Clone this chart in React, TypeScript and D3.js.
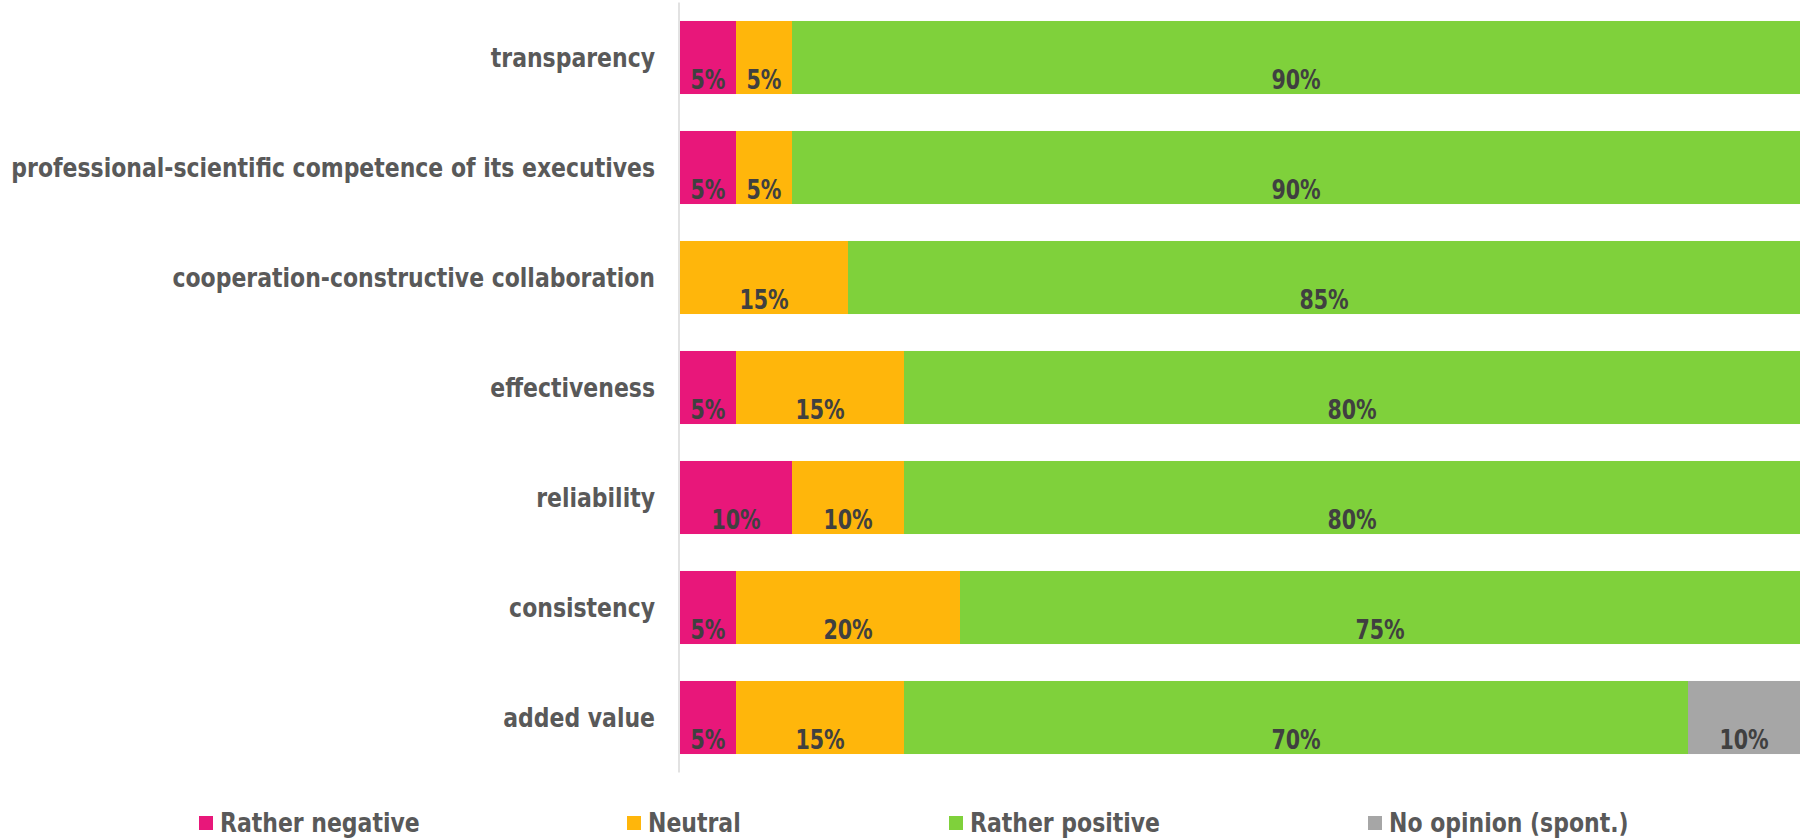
import React from "react";
import * as d3 from "d3";

const categories = [
  "transparency",
  "professional-scientific competence of its executives",
  "cooperation-constructive collaboration",
  "effectiveness",
  "reliability",
  "consistency",
  "added value",
];
const seriesNames = ["Rather negative", "Neutral", "Rather positive", "No opinion (spont.)"];
const ratherNegative = [5, 5, 0, 5, 10, 5, 5];
const neutral = [5, 5, 15, 15, 10, 20, 15];
const ratherPositive = [90, 90, 85, 80, 80, 75, 70];
const noOpinion = [0, 0, 0, 0, 0, 0, 10];
const colors = ["#E8177A", "#FFB60B", "#7FD13B", "#A6A6A6"];

const W = 1800;
const H = 838;
const SX_LABEL = 0.94;
const SX_VALUE = 0.88;
const FONT = "'DejaVu Sans Condensed', 'DejaVu Sans', sans-serif";
const legendX = [199, 627, 949, 1368];

export default function App() {
  const x = d3.scaleLinear().domain([0, 100]).range([680, 1800]);
  const y = d3
    .scaleBand<string>()
    .domain(categories)
    .range([2.5, 772.5])
    .paddingInner(0.336)
    .paddingOuter(0.168);
  const bh = y.bandwidth();
  const series = [ratherNegative, neutral, ratherPositive, noOpinion];
  const rows = categories.map((c, i) => {
    const vals = series.map((s) => s[i]);
    let acc = 0;
    return vals.map((v, k) => {
      const start = acc;
      acc += v;
      return { cat: c, k, v, x0: x(start), x1: x(acc) };
    });
  });

  const txt = (
    key: string,
    tx: number,
    ty: number,
    s: string,
    anchor: string,
    size: number,
    fill: string,
    sx: number
  ) => (
    <g key={key} transform={`translate(${tx},${ty}) scale(${sx},1)`}>
      <text
        x={0}
        y={0}
        dy="0.36em"
        textAnchor={anchor as any}
        fontFamily={FONT}
        fontWeight="bold"
        fontSize={size}
        fill={fill}
      >
        {s}
      </text>
    </g>
  );

  return (
    <svg
      width={W}
      height={H}
      style={{ position: "absolute", left: 0, top: 0, display: "block", background: "#fff" }}
    >
      {rows.map((segs, i) =>
        segs
          .filter((d) => d.v > 0)
          .map((d) => (
            <rect
              key={`r${i}-${d.k}`}
              x={d.x0}
              y={y(d.cat)!}
              width={d.x1 - d.x0}
              height={bh}
              fill={colors[d.k]}
            />
          ))
      )}
      <line x1={679} x2={679} y1={y.range()[0]} y2={y.range()[1]} stroke="#D9D9D9" strokeWidth={1.5} />
      {categories.map((c) =>
        txt(`c-${c}`, 655, y(c)! + bh / 2, c, "end", 26, "#595959", SX_LABEL)
      )}
      {rows.map((segs, i) =>
        segs
          .filter((d) => d.v > 0)
          .map((d) =>
            txt(
              `v${i}-${d.k}`,
              (d.x0 + d.x1) / 2,
              y(d.cat)! + bh * 0.8,
              `${d.v}%`,
              "middle",
              26,
              "#404040",
              SX_VALUE
            )
          )
      )}
      {seriesNames.map((n, k) => (
        <g key={`lg${k}`}>
          <rect x={legendX[k]} y={816} width={14} height={14} fill={colors[k]} />
          {txt(`lt${k}`, legendX[k] + 21, 823, n, "start", 26, "#595959", SX_LABEL)}
        </g>
      ))}
    </svg>
  );
}
